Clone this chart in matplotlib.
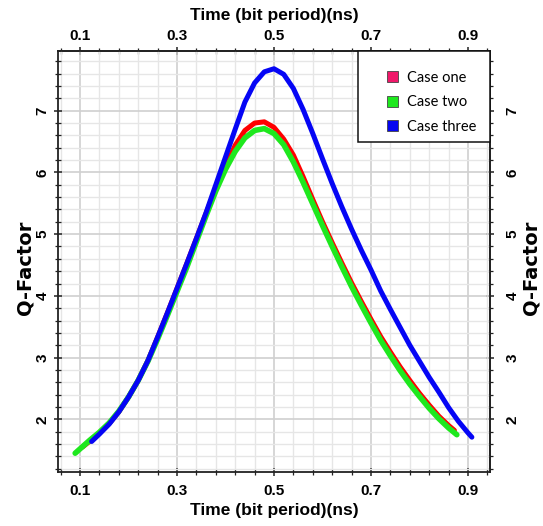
import numpy as np
import matplotlib
matplotlib.use("Agg")
import matplotlib.pyplot as plt
from matplotlib.patches import Patch, Rectangle

# ---- data ----
x_one = [0.105, 0.124, 0.14, 0.16, 0.18, 0.20, 0.22, 0.24, 0.26, 0.28, 0.30, 0.32, 0.34,
         0.36, 0.38, 0.40, 0.42, 0.44, 0.46, 0.48, 0.50, 0.52, 0.54, 0.56, 0.58, 0.60,
         0.62, 0.64, 0.66, 0.68, 0.70, 0.72, 0.74, 0.76, 0.78, 0.80, 0.82, 0.84, 0.86, 0.872]
y_one = [1.55, 1.67, 1.78, 1.93, 2.12, 2.36, 2.63, 2.95, 3.33, 3.72, 4.12, 4.52, 4.93,
         5.34, 5.74, 6.10, 6.44, 6.68, 6.80, 6.82, 6.73, 6.54, 6.28, 5.93, 5.56, 5.20,
         4.86, 4.53, 4.21, 3.91, 3.62, 3.34, 3.09, 2.85, 2.63, 2.42, 2.23, 2.05, 1.90, 1.82]

x_two = [0.090, 0.10, 0.12, 0.14, 0.16, 0.18, 0.20, 0.22, 0.24, 0.26, 0.28, 0.30, 0.32,
         0.34, 0.36, 0.38, 0.40, 0.42, 0.44, 0.46, 0.48, 0.50, 0.52, 0.54, 0.56, 0.58,
         0.60, 0.62, 0.64, 0.66, 0.68, 0.70, 0.72, 0.74, 0.76, 0.78, 0.80, 0.82, 0.84,
         0.86, 0.877]
y_two = [1.45, 1.52, 1.66, 1.79, 1.94, 2.13, 2.36, 2.63, 2.94, 3.30, 3.68, 4.07, 4.46,
         4.88, 5.30, 5.70, 6.05, 6.34, 6.56, 6.68, 6.71, 6.63, 6.45, 6.17, 5.84, 5.49,
         5.14, 4.80, 4.47, 4.15, 3.85, 3.56, 3.28, 3.03, 2.79, 2.57, 2.37, 2.18, 2.01,
         1.86, 1.75]

x_three = [0.124, 0.14, 0.16, 0.18, 0.20, 0.22, 0.24, 0.26, 0.28, 0.30, 0.32, 0.34, 0.36,
           0.38, 0.40, 0.42, 0.44, 0.46, 0.48, 0.50, 0.52, 0.54, 0.56, 0.58, 0.60, 0.62,
           0.64, 0.66, 0.68, 0.70, 0.72, 0.74, 0.76, 0.78, 0.80, 0.82, 0.84, 0.86, 0.88,
           0.90, 0.908]
y_three = [1.64, 1.76, 1.92, 2.12, 2.36, 2.63, 2.95, 3.33, 3.72, 4.12, 4.52, 4.93, 5.35,
           5.80, 6.25, 6.70, 7.14, 7.45, 7.63, 7.68, 7.59, 7.36, 7.02, 6.63, 6.22, 5.82,
           5.44, 5.08, 4.74, 4.42, 4.08, 3.78, 3.49, 3.20, 2.94, 2.68, 2.44, 2.19, 1.97,
           1.78, 1.71]

series_names = ["Case one", "Case two", "Case three"]
x_ticks = [0.1, 0.3, 0.5, 0.7, 0.9]
y_ticks = [2, 3, 4, 5, 6, 7]
x_label = "Time (bit period)(ns)"
y_label = "Q-Factor"

line_colors = ["#ff0000", "#1ee81e", "#0505f5"]
legend_colors = ["#f0186a", "#1ee81e", "#0505f0"]

fig = plt.figure(figsize=(5.43, 5.26), dpi=100)
ax = fig.add_axes([0.1068, 0.1027, 0.7965, 0.8004])

ax.set_xlim(0.0546, 0.9464)
ax.set_ylim(1.146, 7.968)

x_minor = np.arange(0.06, 0.95, 0.04)
y_minor = np.arange(1.2, 7.99, 0.2)

ax.set_xticks(x_ticks)
ax.set_yticks(y_ticks)
ax.set_xticks(x_minor, minor=True)
ax.set_yticks(y_minor, minor=True)

ax.grid(which="minor", color="#e6e6e6", linewidth=1.0, zorder=0)
ax.grid(which="major", color="#d0d0d0", linewidth=1.2, zorder=0)
ax.set_axisbelow(True)

ax.plot(x_one, y_one, color=line_colors[0], lw=3.6, solid_capstyle="round",
        solid_joinstyle="round", zorder=3)
ax.plot(x_two, y_two, color=line_colors[1], lw=4.0, solid_capstyle="round",
        solid_joinstyle="round", zorder=4)
ax.plot(x_three, y_three, color=line_colors[2], lw=3.6, solid_capstyle="round",
        solid_joinstyle="round", zorder=5)

tick_font = dict(family="Liberation Sans", weight="bold", size=11)
lab_font = dict(family="Liberation Sans", weight="bold", size=12.5)
ylab_font = dict(family="DejaVu Sans", weight="bold", size=14)

for sp in ax.spines.values():
    sp.set_linewidth(1.3)
    sp.set_color("#222222")

ax.tick_params(which="major", direction="inout", length=6, width=1.1, color="#222222")
ax.tick_params(which="minor", direction="inout", length=4, width=0.9, color="#222222")
ax.tick_params(axis="x", which="major", pad=6)
ax.tick_params(axis="y", which="major", pad=3, labelrotation=90)
ax.set_xticklabels([f"{t:.1f}" for t in x_ticks], fontdict=tick_font)
ax.set_yticklabels([str(t) for t in y_ticks], fontdict=tick_font, va="center")
ax.set_xlabel(x_label, fontdict=lab_font, labelpad=3)
ax.set_ylabel(y_label, fontdict=ylab_font, labelpad=1)
ax.yaxis.label.set_y(0.485)

# top axis
secx = ax.secondary_xaxis("top")
secx.set_xticks(x_ticks)
secx.set_xticks(x_minor, minor=True)
secx.set_xticklabels([f"{t:.1f}" for t in x_ticks], fontdict=tick_font)
secx.tick_params(which="major", direction="inout", length=6, width=1.1, color="#222222", pad=3)
secx.tick_params(which="minor", direction="inout", length=4, width=0.9, color="#222222")
secx.set_xlabel(x_label, fontdict=lab_font, labelpad=6)
secx.spines["top"].set_linewidth(1.3)
secx.spines["top"].set_color("#222222")

# right axis
secy = ax.secondary_yaxis("right")
secy.set_yticks(y_ticks)
secy.set_yticks(y_minor, minor=True)
secy.set_yticklabels([str(t) for t in y_ticks], fontdict=tick_font, va="center")
secy.tick_params(which="major", direction="inout", length=6, width=1.1, color="#222222",
                 pad=8, labelrotation=90)
secy.tick_params(which="minor", direction="inout", length=4, width=0.9, color="#222222")
secy.set_ylabel(y_label, fontdict=ylab_font, labelpad=1)
secy.yaxis.label.set_y(0.485)
secy.spines["right"].set_linewidth(1.3)
secy.spines["right"].set_color("#222222")

# legend: frame drawn as a box, entries placed inside
box = Rectangle((0.6936, 0.7838), 1 - 0.6936, 1 - 0.7838, transform=ax.transAxes,
                facecolor="white", edgecolor="#111111", linewidth=1.1, zorder=9,
                clip_on=False)
ax.add_patch(box)
handles = [Patch(facecolor=c, edgecolor="#444444", linewidth=0.6) for c in legend_colors]
leg = ax.legend(handles, series_names, loc="upper left", bbox_to_anchor=(0.7599, 0.953),
                borderaxespad=0.0, borderpad=0.0, frameon=False,
                prop=dict(family="Lato", size=10.5), handlelength=0.8, handleheight=0.8,
                handletextpad=0.6, labelspacing=0.72)
leg.set_zorder(10)

fig.savefig("out.png", dpi=100)
